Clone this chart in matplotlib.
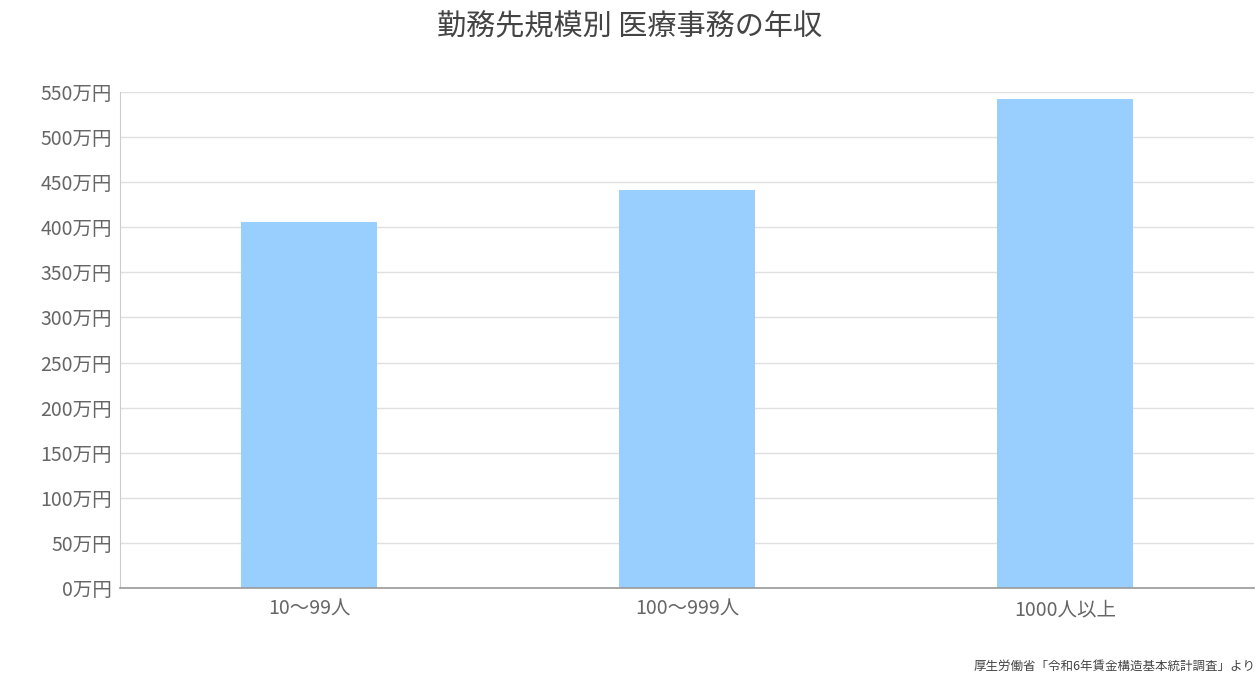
import matplotlib
matplotlib.use("Agg")
import matplotlib.pyplot as plt

plt.rcParams['font.family'] = ['Noto Sans CJK JP', 'DejaVu Sans']

categories = ["10〜99人", "100〜999人", "1000人以上"]
values = [406, 441, 542]
yticks = list(range(0, 551, 50))
ytick_labels = [f"{v}万円" for v in yticks]

fig = plt.figure(figsize=(12.6, 6.82), dpi=100)
ax = fig.add_axes([120/1260, 1-588/682, 1134/1260, 496/682])
ax.bar(range(len(categories)), values, width=0.36, color="#99cfff", zorder=2)
ax.set_xlim(-0.5, 2.5)
ax.set_ylim(0, 550)
ax.set_yticks(yticks)
ax.set_yticklabels(ytick_labels)
ax.set_xticks(range(len(categories)))
ax.set_xticklabels(categories)
ax.tick_params(axis='both', colors="#666666", labelsize=14, length=0, pad=6)
ax.tick_params(axis='x', pad=8)
ax.grid(axis='y', color="#e0e0e0", linewidth=1, zorder=0)
for s in ["top", "right"]:
    ax.spines[s].set_visible(False)
ax.spines["left"].set_color("#cccccc")
ax.spines["bottom"].set_color("#999999")
ax.spines["bottom"].set_linewidth(1.2)

fig.text(630/1260, 1-27/682, "勤務先規模別 医療事務の年収", ha="center", va="center",
         fontsize=21, color="#444444")
fig.text(1256/1260, 1-666/682, "厚生労働省「令和6年賃金構造基本統計調査」より", ha="right",
         va="center", fontsize=9, color="#444444")
fig.savefig("out.png", dpi=100)
